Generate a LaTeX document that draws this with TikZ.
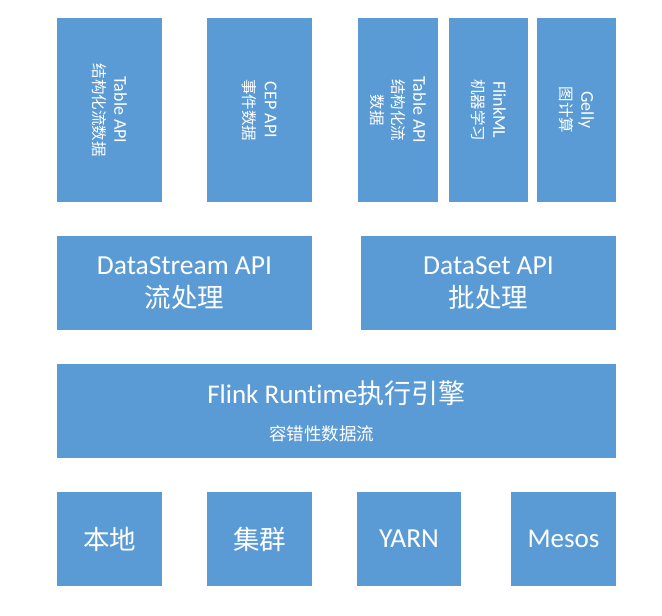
\documentclass[tikz,border=0pt]{standalone}
\usepackage{fontspec}
\setmainfont{Carlito}[Ligatures=CommonOff]
\newfontfamily\cjk{Noto Sans CJK SC}
\definecolor{boxblue}{HTML}{5B9BD5}
\newcommand{\tcjk}[1]{{\cjk\fontsize{15.5}{21}\selectfont #1}}
\tikzset{
  blk/.style={fill=boxblue, draw=none, text=white, align=center, inner sep=0pt},
  tall/.style={blk, rotate=-90, font=\fontsize{18}{21}\selectfont},
  mid/.style={blk, minimum width=255pt, minimum height=94pt, font=\fontsize{27.5}{33}\selectfont},
  low/.style={blk, minimum width=105pt, minimum height=94pt},
}
\begin{document}
\begin{tikzpicture}[x=1pt,y=-1pt]
\useasboundingbox (0,0) rectangle (662,616);
% top row (rotated text)
\node[tall, minimum width=184pt, minimum height=105pt] (tbl) at (109.5,110) {Table API\\\tcjk{结构化流数据}};
\node[tall, minimum width=184pt, minimum height=105pt] (cep) at (259.5,110) {CEP API\\\tcjk{事件数据}};
\node[tall, minimum width=184pt, minimum height=80pt] (tbl2) at (398,110) {Table API\\\tcjk{结构化流}\\\tcjk{数据}};
\node[tall, minimum width=184pt, minimum height=79pt] (ml) at (488.5,110) {FlinkML\\\tcjk{机器学习}};
\node[tall, minimum width=184pt, minimum height=79pt] (gelly) at (576.5,110) {Gelly\\\tcjk{图计算}};
% API row
\node[mid] (ds) at (184.5,283) {DataStream API\\{\cjk\fontsize{26.5}{33}\selectfont 流处理}};
\node[mid] (dset) at (488.5,283) {DataSet API\\{\cjk\fontsize{26.5}{33}\selectfont 批处理}};
% runtime
\node[blk, minimum width=559pt, minimum height=94pt, font=\fontsize{27}{37}\selectfont] (rt) at (336.5,411) {Flink Runtime{\cjk 执行引擎}\\{\cjk\fontsize{17.5}{37}\selectfont 容错性数据流\hspace*{30pt}}};
% deploy row
\node[low, font=\fontsize{26.5}{30}\selectfont\cjk] (local) at (109.5,539) {本地};
\node[low, font=\fontsize{26.5}{30}\selectfont\cjk] (cluster) at (259.5,539) {集群};
\node[low, minimum width=104pt, font=\fontsize{27.5}{30}\selectfont] (yarn) at (409,539) {YARN};
\node[low, font=\fontsize{27}{30}\selectfont] (mesos) at (563.5,539) {Mesos};
\end{tikzpicture}
\end{document}
